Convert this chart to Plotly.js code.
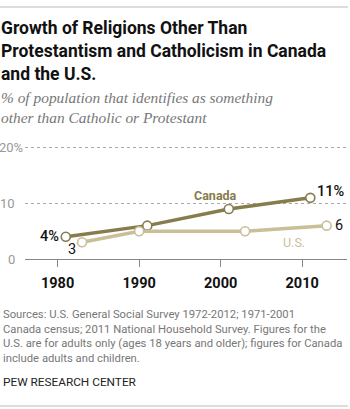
<!DOCTYPE html>
<html>
<head>
<meta charset="utf-8">
<script src="https://cdn.plot.ly/plotly-3.0.1.min.js"></script>
<style>html,body{margin:0;padding:0;background:#fff;}#chart{width:350px;height:409px;}</style>
</head>
<body>
<div id="chart"></div>
<script>
// ---- data ----
const canadaYears = [1981, 1991, 2001, 2011];
const canadaValues = [4, 6, 9, 11];
const canadaLabels = ['4%', '', '', '11%'];
const usYears = [1983, 1990, 2003, 2013];
const usValues = [3, 5, 5, 6];
const usLabels = ['3', '', '', '6'];
const xTickVals = [1980, 1990, 2000, 2010];
const xTickText = ['1980', '1990', '2000', '2010'];
const yTickVals = [0, 10, 20];
const yTickText = ['0', '10', '20'];
const yTickSuffix = ['', '', '%'];
const seriesNames = ['Canada', 'U.S.'];

const W = 350, H = 409;
const M = {l: 25, r: 3, t: 145, b: 150};
const PW = W - M.l - M.r, PH = H - M.t - M.b;
const px = x => (x - M.l) / PW;
const py = y => (H - M.b - y) / PH;

const cCan = '#877c4c';
const cUS = '#c9bf98';
const FONT = 'Roboto, "Liberation Sans", sans-serif';

const traces = [
  {
    x: canadaYears, y: canadaValues, name: seriesNames[0], type: 'scatter', mode: 'lines+markers',
    line: {color: cCan, width: 3.5},
    marker: {size: 9, color: '#fff', line: {color: cCan, width: 1.6}},
    cliponaxis: false, hoverinfo: 'none'
  },
  {
    x: usYears, y: usValues, name: seriesNames[1], type: 'scatter', mode: 'lines+markers',
    line: {color: cUS, width: 3.5},
    marker: {size: 9, color: '#fff', line: {color: cUS, width: 1.6}},
    cliponaxis: false, hoverinfo: 'none'
  }
];

const annotations = [];
function txt(text, x, y, opts) {
  annotations.push(Object.assign({
    text: text, xref: 'paper', yref: 'paper', x: px(x), y: py(y),
    xanchor: 'left', yanchor: 'top', showarrow: false, align: 'left',
    font: {family: FONT, size: 12, color: '#111'}
  }, opts || {}));
}

// title
txt('<b>Growth of Religions Other Than<br>Protestantism and Catholicism in Canada<br>and the U.S.</b>', -1, 16,
  {font: {family: FONT, size: 17.5, color: '#111'}});
// subtitle
txt('<i>% of population that identifies as something<br>other than Catholic or Protestant</i>', -1, 87,
  {font: {family: '"Liberation Serif", serif', size: 15.4, color: '#777'}});
// notes
txt('Sources: U.S. General Social Survey 1972-2012; 1971-2001<br>Canada census; 2011 National Household Survey. Figures for the<br>U.S. are for adults only (ages 18 years and older); figures for Canada<br>include adults and children.', 1, 306,
  {font: {family: FONT, size: 11.25, color: '#777'}});
txt('PEW RESEARCH CENTER', 1, 373, {font: {family: FONT, size: 11.8, color: '#222'}});

// y tick labels
yTickVals.forEach((v, i) => {
  annotations.push({text: yTickText[i] + yTickSuffix[i], xref: 'paper', yref: 'y',
    x: px(yTickSuffix[i] ? 25 : 16.5), y: v,
    xanchor: 'right', yanchor: 'middle', showarrow: false,
    font: {family: FONT, size: 13, color: '#999'}});
});

// point labels
function ptLabel(text, x, y, xanchor, xshift, yshift, weight) {
  if (!text) return;
  annotations.push({text: text, x: x, y: y, xref: 'x', yref: 'y', showarrow: false,
    xanchor: xanchor, yanchor: 'middle', xshift: xshift, yshift: yshift,
    font: {family: FONT, size: 14.5, color: '#111', weight: weight}});
}
ptLabel(canadaLabels[0], canadaYears[0], canadaValues[0], 'right', -5, 0, 500);
ptLabel(canadaLabels[3], canadaYears[3], canadaValues[3], 'left', 5, 6, 500);
ptLabel(usLabels[0], usYears[0], usValues[0], 'center', -10, -7, 400);
ptLabel(usLabels[3], usYears[3], usValues[3], 'left', 6, 0, 400);

// series labels
annotations.push({text: '<b>' + seriesNames[0] + '</b>', x: canadaYears[2] - 1.6, y: canadaValues[3] + 0.4,
  xref: 'x', yref: 'y', showarrow: false, font: {family: FONT, size: 12.5, color: cCan}});
annotations.push({text: seriesNames[1], x: usYears[3] - 4, y: usValues[0] - 0.1,
  xref: 'x', yref: 'y', showarrow: false, font: {family: FONT, size: 12.5, color: cUS}});

const layout = {
  width: W, height: H, margin: M,
  paper_bgcolor: '#fff', plot_bgcolor: '#fff',
  showlegend: false,
  xaxis: {range: [1976, 2015.5], tickvals: xTickVals, ticktext: xTickText.map(t => '<b>' + t + '</b>'),
    ticks: 'outside', ticklen: 7, tickcolor: '#888', tickwidth: 1, ticklabelstandoff: 4,
    showline: true, linecolor: '#888', linewidth: 1, showgrid: false, zeroline: false,
    tickfont: {family: FONT, size: 14.5, color: '#111'}, fixedrange: true},
  yaxis: {range: [0, 20.5], tickvals: yTickVals, showticklabels: false, ticks: '',
    showgrid: true, gridcolor: '#aaa', griddash: 'dot', gridwidth: 1, zeroline: false, showline: false, fixedrange: true},
  annotations: annotations,
  shapes: [
    {type: 'line', xref: 'paper', yref: 'paper', x0: px(0), x1: px(348), y0: py(7), y1: py(7), line: {color: '#bbb', width: 1}},
    {type: 'line', xref: 'paper', yref: 'paper', x0: px(0), x1: px(348), y0: py(406), y1: py(406), line: {color: '#bbb', width: 1}}
  ]
};

Plotly.newPlot('chart', traces, layout, {displayModeBar: false, staticPlot: true});
</script>
</body>
</html>
